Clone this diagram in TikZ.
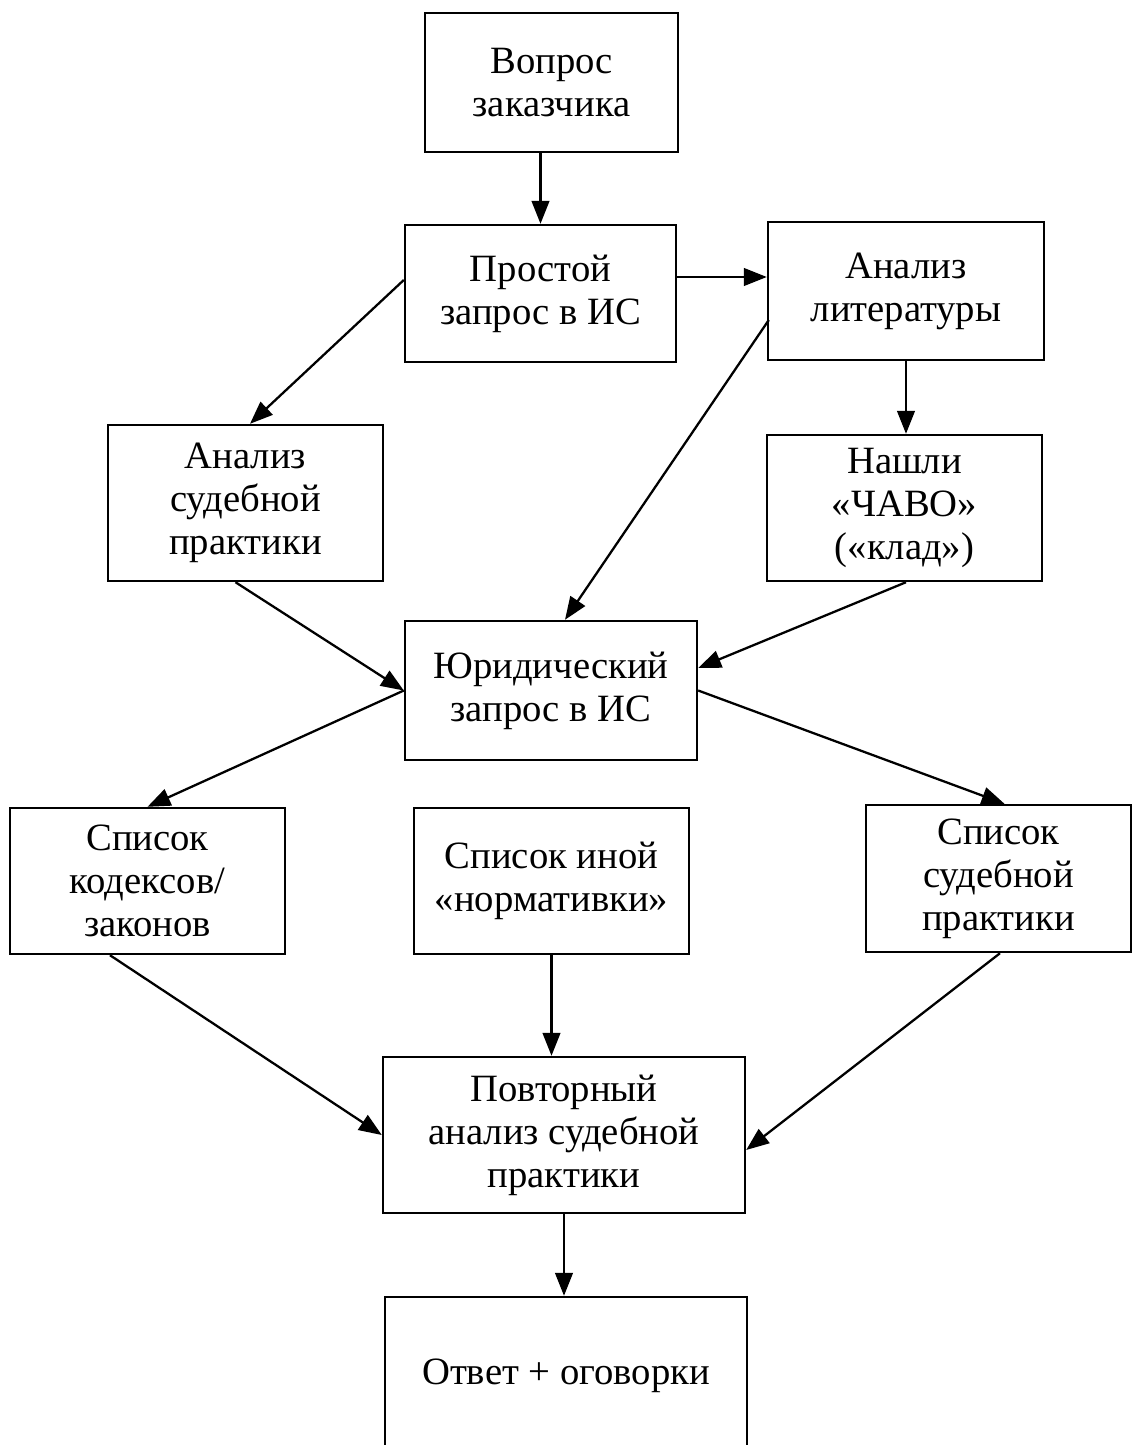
\documentclass[tikz,border=0pt]{standalone}
\usepackage{fontspec}
\setmainfont{Liberation Serif}
\usetikzlibrary{arrows.meta,calc}

\tikzset{
  stage/.style = {draw, line width=1.4pt, align=center, inner sep=0pt,
                  font=\fontsize{22}{24.5}\selectfont},
  flow/.style  = {-{Triangle[length=13pt,width=10pt]}, line width=1.3pt},
}

\begin{document}
\begin{tikzpicture}[x=0.02cm, y=-0.02cm]
  \clip (0,0) rectangle (1133,1445);
  \useasboundingbox (0,0) rectangle (1133,1445);

  \node[stage, minimum width=5.06cm, minimum height=2.78cm] (ask) at (551.5,82.5) {Вопрос\\заказчика};
  \node[stage, minimum width=5.42cm, minimum height=2.74cm] (simple) at (540.5,293.5) {Простой\\запрос в ИС};
  \node[stage, minimum width=5.52cm, minimum height=2.76cm] (lit) at (906,291) {Анализ\\литературы};
  \node[stage, minimum width=5.5cm, minimum height=3.12cm] (court) at (245.5,503) {Анализ\\судебной\\практики};
  \node[stage, minimum width=5.5cm, minimum height=2.92cm] (faq) at (904.5,508) {Нашли\\«ЧАВО»\\(«клад»)};
  \node[stage, minimum width=5.84cm, minimum height=2.78cm] (legal) at (551,690.5) {Юридический\\запрос в ИС};
  \node[stage, minimum width=5.5cm, minimum height=2.92cm] (codes) at (147.5,881) {Список\\кодексов/\\законов};
  \node[stage, minimum width=5.5cm, minimum height=2.92cm] (norms) at (551.5,881) {Список иной\\«нормативки»};
  \node[stage, minimum width=5.3cm, minimum height=2.94cm] (courtlist) at (998.5,878.5) {Список\\судебной\\практики};
  \node[stage, minimum width=7.24cm, minimum height=3.12cm] (recheck) at (564,1135) {Повторный\\анализ судебной\\практики};
  \node[stage, minimum width=7.24cm, minimum height=3.16cm] (answer) at (566,1376) {Ответ + оговорки};

  \draw[flow] ($(ask.south)+(-11,0)$) -- (simple.north);
  \draw[flow] ($(simple.east)+(0,-16.5)$) -- ($(lit.west)+(0,-14)$);
  \draw[flow] ($(simple.west)+(0,-13.5)$) -- ($(court.north)+(4.5,0)$);
  \draw[flow] ($(lit.west)+(2,29)$) -- ($(legal.north)+(14,0)$);
  \draw[flow] (lit.south) -- (lit.south |- faq.north);
  \draw[flow] ($(court.south)+(-10,0)$) -- (legal.west);
  \draw[flow] ($(faq.south)+(1.5,0)$) -- ($(legal.east)+(0,-22.5)$);
  \draw[flow] (legal.west) -- (codes.north);
  \draw[flow] (legal.east) -- ($(courtlist.north)+(6,0)$);
  \draw[flow] ($(codes.south)+(-37.5,0)$) -- (recheck.west);
  \draw[flow] (norms.south) -- (norms.south |- recheck.north);
  \draw[flow] ($(courtlist.south)+(1.5,0)$) -- ($(recheck.east)+(0,15)$);
  \draw[flow] (recheck.south) -- (recheck.south |- answer.north);
\end{tikzpicture}
\end{document}
